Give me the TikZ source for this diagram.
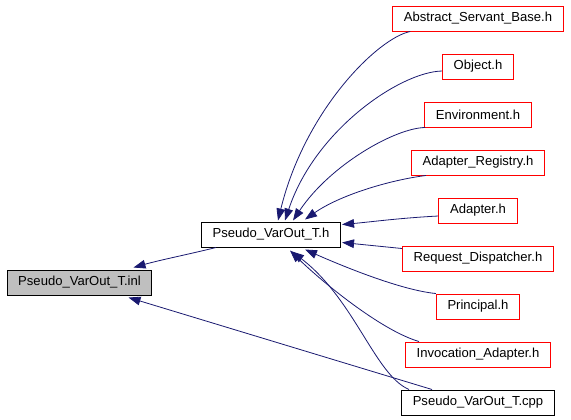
\documentclass[tikz,border=0pt]{standalone}
\usepackage{fontspec}
\setmainfont{Liberation Sans}
\usetikzlibrary{arrows.meta}

\definecolor{azulseta}{HTML}{191970}
\definecolor{cinza}{HTML}{BFBFBF}

\tikzset{
    caixa/.style={draw, line width=0.75pt, minimum height=18.75pt, inner xsep=8.4pt, inner ysep=0pt,
        font=\fontsize{9.8}{11}\selectfont},
    caixa vermelha/.style={caixa, draw=red},
    seta/.style={draw=azulseta, line width=0.6pt, -{Triangle[length=9pt, width=6.5pt, fill=azulseta]}}
}

\begin{document}
\begin{tikzpicture}[x=0.75pt, y=-0.75pt]
    \useasboundingbox (0,0) rectangle (571,419);

    % arquivos principais
    \node[caixa, fill=cinza] (inl) at (79.5,282.5) {Pseudo\_VarOut\_T.inl};
    \node[caixa] (h) at (271,234.5) {Pseudo\_VarOut\_T.h};

    % coluna da direita
    \foreach \nome/\texto [count=\k from 0] in {asb/Abstract\_Servant\_Base.h, obj/Object.h,
        env/Environment.h, reg/Adapter\_Registry.h, ad/Adapter.h, rd/Request\_Dispatcher.h,
        pr/Principal.h, ia/Invocation\_Adapter.h}
        \node[caixa vermelha] (\nome) at (478,{18.5+48*\k}) {\texto};
    \node[caixa] (cpp) at (478,402.5) {Pseudo\_VarOut\_T.cpp};

    % setas para Pseudo_VarOut_T.h
    \draw[seta] ([shift={(18,0)}]asb.south west) .. controls (378,38) and (305,110) .. ([shift={(7,-1)}]h.north);
    \draw[seta] ([shift={(0,4.5)}]obj.west) .. controls (400,72) and (315,130) .. ([shift={(14,-1)}]h.north);
    \draw[seta] ([shift={(1,0)}]env.south west) .. controls (395,128) and (330,165) .. ([shift={(22,-1)}]h.north);
    \draw[seta] ([shift={(15,0)}]reg.south west) .. controls (390,180) and (340,195) .. ([shift={(34,-2)}]h.north);
    \draw[seta] ([shift={(0,5.5)}]ad.west) .. controls (400,218) and (370,222) .. ([shift={(1,-10)}]h.east);
    \draw[seta] ([shift={(0,-10)}]rd.west) -- ([shift={(1,8)}]h.east);
    \draw[seta] (pr.north west) .. controls (400,290) and (340,265) .. ([shift={(34,2)}]h.south);
    \draw[seta] ([shift={(14,0)}]ia.north west) .. controls (380,330) and (320,280) .. ([shift={(19,3)}]h.south);
    \draw[seta] ([shift={(8,0)}]cpp.north west) .. controls (375,375) and (355,300) .. ([shift={(21,4)}]h.south);

    % setas para Pseudo_VarOut_T.inl
    \draw[seta] ([shift={(15,0)}]h.south west) .. controls (190,254) and (160,260) .. ([shift={(54,-2)}]inl.north);
    \draw[seta] ([shift={(31,0)}]cpp.north west) -- ([shift={(49,2)}]inl.south);
\end{tikzpicture}
\end{document}
